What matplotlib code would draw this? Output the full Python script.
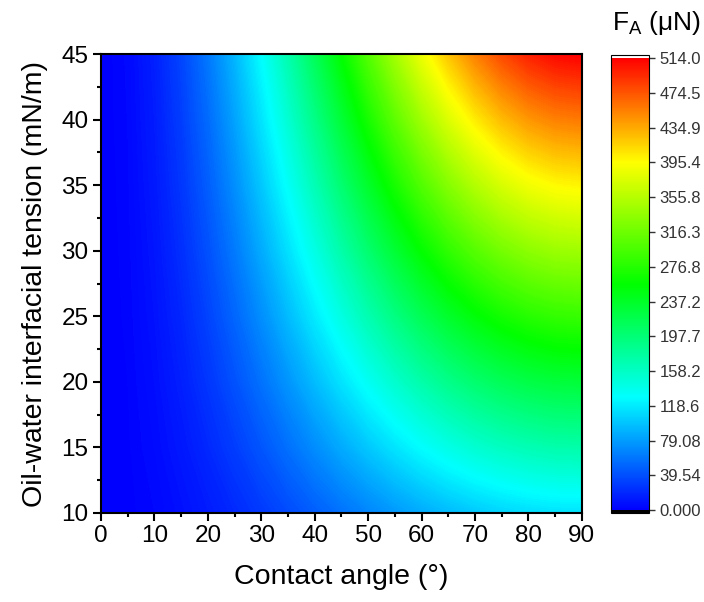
import numpy as np
import matplotlib
matplotlib.use("Agg")
import matplotlib.pyplot as plt
from matplotlib.colors import LinearSegmentedColormap, Normalize
from matplotlib.cm import ScalarMappable

plt.rcParams['font.family'] = ['Liberation Sans', 'DejaVu Sans']

# --- data (F_A in uN) ---
contact_angle = [0, 5, 10, 15, 20, 25, 30, 35, 40, 45, 50, 55, 60, 65, 70, 75, 80, 85, 90]
tension = [10, 15, 20, 25, 30, 35, 40, 45]
force = [
    [0, 0.9, 3.4, 7.7, 13.4, 20.4, 28.6, 37.6, 47.2, 57.1, 67.0, 76.6, 85.7, 93.8, 100.8, 106.6, 110.8, 113.3, 114.2],
    [0, 1.3, 5.2, 11.5, 20.0, 30.6, 42.8, 56.4, 70.8, 85.7, 100.5, 114.9, 128.5, 140.7, 151.3, 159.8, 166.1, 170.0, 171.3],
    [0, 1.7, 6.9, 15.3, 26.7, 40.8, 57.1, 75.1, 94.4, 114.2, 134.0, 153.3, 171.3, 187.6, 201.7, 213.1, 221.5, 226.7, 228.4],
    [0, 2.2, 8.6, 19.1, 33.4, 51.0, 71.4, 94.0, 118.0, 142.8, 167.6, 191.6, 214.2, 234.6, 252.2, 266.5, 277.0, 283.4, 285.6],
    [0, 2.6, 10.3, 23.0, 40.1, 61.2, 85.7, 112.7, 141.6, 171.4, 201.1, 230.0, 257.0, 281.5, 302.6, 319.7, 332.4, 340.1, 342.7],
    [0, 3.0, 12.1, 26.8, 46.8, 71.4, 100.0, 131.5, 165.2, 199.9, 234.6, 268.3, 299.9, 328.4, 353.0, 373.0, 387.7, 396.8, 399.8],
    [0, 3.5, 13.8, 30.6, 53.4, 81.6, 114.2, 150.3, 188.8, 228.5, 268.1, 306.6, 342.7, 375.3, 403.4, 426.3, 443.1, 453.4, 456.9],
    [0, 3.9, 15.5, 34.4, 60.1, 91.8, 128.5, 169.1, 212.4, 257.0, 301.6, 344.9, 385.5, 422.2, 453.9, 479.6, 498.5, 510.1, 514.0],
]
cbar_ticks = [0.000, 39.54, 79.08, 118.6, 158.2, 197.7, 237.2, 276.8, 316.3, 355.8, 395.4, 434.9, 474.5, 514.0]
cbar_labels = ['0.000', '39.54', '79.08', '118.6', '158.2', '197.7', '237.2',
               '276.8', '316.3', '355.8', '395.4', '434.9', '474.5', '514.0']
fmin, fmax = 0.0, 514.0

# Origin-like rainbow palette
rainbow = LinearSegmentedColormap.from_list(
    'rainbow_origin',
    [(0.0, '#0000ff'), (0.25, '#00ffff'), (0.5, '#00ff00'), (0.77, '#ffff00'), (1.0, '#ff0000')],
    N=512)
rainbow.set_under('black')
rainbow.set_over('white')

fig = plt.figure(figsize=(7.04, 6.02), dpi=100)
ax = fig.add_axes([0.1435, 0.148, 0.683, 0.762])

levels = np.linspace(fmin, fmax, 300)
cs = ax.contourf(contact_angle, tension, np.array(force), levels=levels,
                 cmap=rainbow, vmin=fmin, vmax=fmax, antialiased=False)

ax.set_xlim(0, 90)
ax.set_ylim(10, 45)
ax.set_xticks(np.arange(0, 91, 10))
ax.set_xticks(np.arange(0, 91, 5), minor=True)
ax.set_yticks(np.arange(10, 46, 5))
ax.set_yticks(np.arange(10, 46, 2.5), minor=True)
ax.tick_params(which='major', direction='out', length=6, width=1.5, labelsize=17.5, pad=3)
ax.tick_params(which='minor', direction='out', length=3, width=1.5)
for s in ax.spines.values():
    s.set_linewidth(1.5)
ax.set_xlabel('Contact angle (°)', fontsize=20.5, labelpad=12)
ax.set_ylabel('Oil-water interfacial tension (mN/m)', fontsize=20.5, labelpad=10)

# colour bar
cax = fig.add_axes([0.868, 0.148, 0.054, 0.760])
sm = ScalarMappable(norm=Normalize(fmin, fmax), cmap=rainbow)
cb = fig.colorbar(sm, cax=cax, ticks=cbar_ticks, extend='both',
                  extendfrac=0.006, extendrect=True)
cb.ax.set_yticklabels(cbar_labels)
cb.ax.tick_params(direction='out', length=4, width=1, labelsize=12, colors='#333333')
cb.outline.set_linewidth(0.8)
fig.text(0.932, 0.962, r'F$_{\mathregular{A}}$ ($\mathregular{\mu}$N)', fontsize=19,
         ha='center', va='center')

fig.savefig('out.png', dpi=100)
